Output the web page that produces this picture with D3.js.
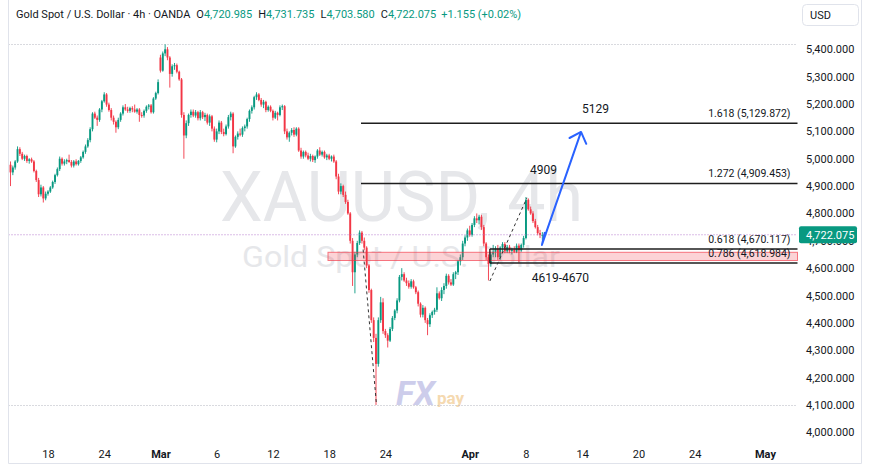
<!DOCTYPE html>
<html><head><meta charset="utf-8">
<script src="https://cdn.jsdelivr.net/npm/d3@7"></script>
<style>html,body{margin:0;padding:0;background:#fff;}svg{display:block;font-family:Roboto,"Noto Sans",sans-serif;}</style>
</head><body><svg id="c" width="870" height="466"></svg>
<script>
// ---- data (4h bars, index 0 = first visible bar) ----
const opens = [4978,4950,4968,4990,5035,5018,5000,5010,4992,4998,4990,4955,4922,4870,4895,4855,4872,4880,4895,4915,4940,4962,5000,4982,4990,4995,4988,4975,4990,4980,4992,5005,5025,5045,5068,5108,5165,5150,5142,5180,5210,5235,5198,5178,5150,5135,5115,5142,5165,5188,5180,5175,5185,5180,5172,5180,5160,5158,5175,5190,5195,5170,5220,5240,5370,5322,5385,5400,5370,5310,5338,5342,5318,5290,5160,5085,5130,5160,5172,5158,5170,5148,5170,5152,5160,5132,5155,5110,5070,5100,5132,5098,5090,5118,5152,5165,5045,5080,5092,5088,5112,5118,5145,5175,5188,5225,5235,5215,5198,5208,5178,5190,5175,5150,5168,5160,5188,5192,5100,5078,5095,5105,5088,5110,5030,5008,5025,5012,5000,5010,4995,5008,5030,5015,5025,5005,5012,5000,5008,4990,4935,4880,4900,4868,4842,4800,4700,4585,4650,4692,4730,4700,4675,4610,4520,4410,4345,4250,4410,4475,4370,4355,4335,4378,4418,4445,4482,4568,4578,4555,4545,4532,4552,4530,4512,4470,4430,4455,4410,4395,4428,4440,4448,4508,4490,4520,4535,4572,4548,4540,4578,4585,4625,4640,4690,4712,4738,4722,4758,4782,4775,4788,4750,4690,4640,4615,4650,4660,4672,4640,4675,4688,4662,4678,4663,4668,4660,4682,4665,4685,4710,4850,4815,4800,4772,4750,4728,4720.985];
const highs = [4990,4975,4995,5045,5042,5025,5015,5015,5002,5004,4995,4960,4930,4905,4900,4880,4885,4900,4920,4945,4968,5008,5005,4998,5000,5015,4995,4995,4998,4995,5010,5030,5052,5075,5115,5170,5172,5158,5185,5215,5243,5240,5205,5185,5158,5140,5150,5170,5195,5200,5190,5190,5192,5198,5185,5185,5170,5180,5195,5200,5200,5225,5245,5290,5380,5392,5418,5408,5375,5345,5350,5348,5322,5295,5170,5140,5165,5180,5180,5178,5175,5178,5175,5168,5165,5162,5160,5118,5110,5140,5138,5110,5125,5160,5172,5170,5085,5100,5110,5118,5125,5150,5180,5195,5230,5243,5240,5222,5215,5212,5195,5195,5180,5175,5172,5195,5198,5196,5110,5100,5112,5115,5115,5115,5040,5030,5030,5022,5018,5015,5012,5035,5042,5030,5030,5018,5018,5012,5015,4995,4945,4910,4905,4880,4850,4805,4710,4660,4700,4738,4736,4712,4680,4615,4525,4420,4360,4420,4495,4490,4378,4362,4385,4425,4450,4490,4575,4600,4585,4565,4555,4560,4558,4535,4518,4475,4465,4460,4418,4435,4445,4455,4530,4515,4530,4545,4580,4578,4560,4585,4590,4630,4650,4700,4720,4745,4755,4765,4790,4800,4795,4795,4758,4695,4650,4660,4685,4680,4685,4680,4695,4695,4685,4685,4675,4680,4690,4690,4690,4718,4860,4855,4825,4808,4780,4758,4740,4731.735];
const lows = [4900,4940,4960,4985,5010,4995,4992,4985,4982,4985,4950,4915,4860,4862,4840,4848,4865,4875,4890,4908,4935,4955,4975,4975,4980,4985,4968,4968,4975,4975,4985,5000,5018,5040,5060,5100,5145,5120,5135,5170,5205,5190,5172,5140,5125,5095,5108,5135,5158,5175,5168,5168,5170,5168,5165,5135,5150,5150,5168,5180,5165,5165,5215,5235,5315,5318,5375,5360,5260,5300,5325,5312,5285,5150,5000,5075,5120,5150,5152,5150,5140,5140,5145,5138,5125,5120,5100,5062,5060,5090,5090,5082,5085,5110,5140,5020,5040,5070,5082,5080,5100,5110,5135,5165,5180,5215,5210,5190,5185,5170,5172,5170,5140,5145,5140,5155,5178,5090,5070,5062,5085,5080,5082,5025,5000,5000,5005,4995,4990,4988,4985,5000,5010,5008,5000,4995,4995,4990,4985,4925,4870,4870,4860,4835,4795,4690,4535,4508,4640,4685,4690,4665,4600,4510,4400,4330,4100,4240,4400,4360,4345,4310,4330,4370,4410,4435,4475,4555,4550,4535,4525,4525,4525,4505,4460,4420,4420,4400,4355,4385,4418,4430,4440,4485,4480,4505,4525,4540,4535,4535,4560,4575,4610,4630,4680,4700,4715,4715,4750,4765,4760,4740,4680,4630,4555,4605,4640,4640,4630,4630,4660,4655,4655,4655,4650,4655,4655,4620,4660,4675,4705,4810,4795,4765,4745,4720,4710,4703.58];
const closes = [4950,4968,4990,5035,5018,5000,5010,4992,4998,4990,4955,4922,4870,4895,4855,4872,4880,4895,4915,4940,4962,5000,4982,4990,4995,4988,4975,4990,4980,4992,5005,5025,5045,5068,5108,5165,5150,5142,5180,5210,5235,5198,5178,5150,5135,5115,5142,5165,5188,5180,5175,5185,5180,5172,5180,5160,5158,5175,5190,5195,5170,5220,5240,5280,5322,5385,5400,5370,5310,5338,5342,5318,5290,5160,5085,5130,5160,5172,5158,5170,5148,5170,5152,5160,5132,5155,5110,5070,5100,5132,5098,5090,5118,5152,5165,5045,5080,5092,5088,5112,5118,5145,5175,5188,5225,5235,5215,5198,5208,5178,5190,5175,5150,5168,5160,5188,5192,5100,5078,5095,5105,5088,5110,5030,5008,5025,5012,5000,5010,4995,5008,5030,5015,5025,5005,5012,5000,5008,4990,4935,4880,4900,4868,4842,4800,4700,4585,4650,4692,4730,4700,4675,4610,4520,4410,4345,4250,4410,4475,4370,4355,4335,4378,4418,4445,4482,4568,4578,4555,4545,4532,4552,4530,4512,4470,4430,4455,4410,4395,4428,4440,4448,4508,4490,4520,4535,4572,4548,4540,4578,4585,4625,4640,4690,4712,4738,4722,4758,4782,4775,4788,4750,4690,4640,4615,4650,4660,4672,4640,4675,4688,4662,4678,4663,4668,4660,4682,4665,4685,4710,4850,4815,4800,4772,4750,4728,4721,4722.075];

const priceTicks = [4000,4100,4200,4300,4400,4500,4600,4700,4800,4900,5000,5100,5200,5300,5400];
const timeTickBars = [16,40,64,88,112,136,160,196,220,244,268,292,322];
const timeTickLabels = ['18','24','Mar','6','12','18','24','Apr','8','14','20','24','May'];

const fibRatios = ['1.618','1.272','0.618','0.786'];
const fibPrices = [5129.872,4909.453,4670.117,4618.984];
const fibStartBars = [149.6,149.6,204.6,204.6];

const zoneLow = 4628, zoneHigh = 4658, zoneStartBar = 135.5;
const noteTexts = ['5129','4909','4619-4670'];
const noteBars = [249.7,227.5,234.7];
const notePrices = [5167,4944,4549];
const dashLines = [[[150.5,4668],[156.2,4100]],[[204.6,4553],[220.4,4857]]];
const arrowPath = [[228.1,4732],[226.8,4685],[243.5,5098]];

const symbol = 'XAUUSD, 4h';
const title = 'Gold Spot / U.S. Dollar';
const headerTitle = 'Gold Spot / U.S. Dollar · 4h · OANDA';
const ohlcLabels = ['O','H','L','C'];
const lastChange = '+1.155 (+0.02%)';

// ---- setup ----
const UP = '#089981', DN = '#f23645', TXT = '#131722';
const svg = d3.select('#c');
const plotL = 8.5, plotR = 797.5;
const step = 2.343, x0 = 10.5;
const x = d3.scaleLinear().domain([0, 227]).range([x0, x0 + 227*step]);
const y = d3.scaleLinear().domain([4000, 5400]).range([432.3, 49.3]);
const n = closes.length;
const idx = d3.range(n);
const last = closes[n-1];
const fmt3 = d3.format(',.3f');

svg.append('rect').attr('width',870).attr('height',466).attr('fill','#fff');
svg.append('defs').append('clipPath').attr('id','clip')
  .append('rect').attr('x',plotL).attr('y',30).attr('width',plotR-plotL).attr('height',415);

// watermark
svg.append('text').attr('x',401.5).attr('y',221).attr('text-anchor','middle')
  .attr('font-size',70).attr('fill','#e6e7ea').attr('textLength',363).attr('lengthAdjust','spacingAndGlyphs').text(symbol);
svg.append('text').attr('x',401).attr('y',267).attr('text-anchor','middle')
  .attr('font-size',29).attr('fill','#e6e7ea').attr('textLength',318).attr('lengthAdjust','spacingAndGlyphs').text(title);

// FXpay logo
const logo = svg.append('g');
logo.append('text').attr('x',396).attr('y',405).attr('font-size',34).attr('font-weight',700)
  .attr('font-style','italic').attr('fill','#cdcdeb').text('FX');
logo.append('text').attr('x',437).attr('y',404).attr('font-size',17).attr('font-weight',700)
  .attr('fill','#f5d9b0').text('pay');

// high/low dotted lines
const hi = d3.max(highs), lo = d3.min(lows);
svg.selectAll('line.hl').data([hi, lo]).join('line')
  .attr('x1',plotL).attr('x2',plotR).attr('y1',d=>Math.round(y(d))+0.5).attr('y2',d=>Math.round(y(d))+0.5)
  .attr('stroke','#b2b5be').attr('stroke-dasharray','1,2');

// candles
const g = svg.append('g').attr('clip-path','url(#clip)');
g.selectAll('line.w').data(idx).join('line')
  .attr('x1',i=>x(i)).attr('x2',i=>x(i)).attr('y1',i=>y(highs[i])).attr('y2',i=>y(lows[i]))
  .attr('stroke',i=>closes[i]>=opens[i]?UP:DN).attr('stroke-width',0.9);
g.selectAll('rect.b').data(idx).join('rect')
  .attr('x',i=>x(i)-0.95).attr('width',1.9)
  .attr('y',i=>y(Math.max(opens[i],closes[i])))
  .attr('height',i=>Math.max(1,Math.abs(y(opens[i])-y(closes[i]))))
  .attr('fill',i=>closes[i]>=opens[i]?UP:DN);

// zone
svg.append('rect').attr('x',x(zoneStartBar)).attr('y',y(zoneHigh))
  .attr('width',plotR-x(zoneStartBar)).attr('height',y(zoneLow)-y(zoneHigh))
  .attr('fill','rgba(242,54,69,0.22)').attr('stroke','rgba(242,54,69,0.65)').attr('stroke-width',1);

// fib lines
fibPrices.forEach((p,k)=>{
  svg.append('line').attr('x1',x(fibStartBars[k])).attr('x2',plotR).attr('y1',y(p)).attr('y2',y(p))
    .attr('stroke','#1e1e1e').attr('stroke-width',1.4);
  svg.append('text').attr('x',plotR-7).attr('y',y(p)-6).attr('text-anchor','end')
    .attr('font-size',10.5).attr('fill',TXT).text(`${fibRatios[k]} (${fmt3(p)})`);
});
svg.append('line').attr('x1',x(fibStartBars[2])).attr('x2',x(fibStartBars[3]))
  .attr('y1',y(fibPrices[2])).attr('y2',y(fibPrices[3])).attr('stroke','#1e1e1e').attr('stroke-width',1.4);

// last price dotted
svg.append('line').attr('x1',plotL).attr('x2',plotR).attr('y1',y(last)).attr('y2',y(last))
  .attr('stroke','#b77ccf').attr('stroke-dasharray','1,2');

// dashed lines
dashLines.forEach(seg=>{
  svg.append('line').attr('x1',x(seg[0][0])).attr('y1',y(seg[0][1])).attr('x2',x(seg[1][0])).attr('y2',y(seg[1][1]))
    .attr('stroke','#333').attr('stroke-width',1).attr('stroke-dasharray','3,3');
});

// arrow
const pts = arrowPath.map(d=>[x(d[0]),y(d[1])]);
svg.append('path').attr('d',d3.line()(pts)).attr('fill','none').attr('stroke','#2962ff').attr('stroke-width',2).attr('stroke-linejoin','round');
const tip = pts[pts.length-1], prev = pts[pts.length-2];
const ang = Math.atan2(prev[1]-tip[1], prev[0]-tip[0]);
const head = [ang-0.75, ang+0.75].map(a=>[tip[0]+13*Math.cos(a), tip[1]+13*Math.sin(a)]);
svg.append('path').attr('d',d3.line()([head[0],tip,head[1]])).attr('fill','none')
  .attr('stroke','#2962ff').attr('stroke-width',2).attr('stroke-linecap','round').attr('stroke-linejoin','round');

// notes
noteTexts.forEach((t,k)=>{
  svg.append('text').attr('x',x(noteBars[k])).attr('y',y(notePrices[k])).attr('text-anchor','middle')
    .attr('font-size',12).attr('fill',TXT).text(t);
});

// price axis
const ya = svg.append('g').attr('transform','translate(806,0)')
  .call(d3.axisRight(y).tickValues(priceTicks).tickFormat(fmt3).tickSize(0).tickPadding(0));
ya.select('.domain').remove();
ya.selectAll('text').attr('font-size',11).attr('fill',TXT).attr('font-family','Roboto, sans-serif');

// last price label
svg.append('rect').attr('x',799).attr('y',y(last)-8.5).attr('width',58).attr('height',17).attr('rx',2).attr('fill',UP);
svg.append('text').attr('x',806).attr('y',y(last)+4).attr('font-size',11).attr('fill','#fff').text(fmt3(last));

// time axis
const xa = svg.append('g').attr('transform','translate(0,450)')
  .call(d3.axisBottom(x).tickValues(timeTickBars).tickFormat((d,i)=>timeTickLabels[i]).tickSize(0).tickPadding(0));
xa.select('.domain').remove();
xa.selectAll('text').attr('font-size',11).attr('fill',TXT).attr('font-family','Roboto, sans-serif')
  .attr('font-weight',(d,i)=>isNaN(+timeTickLabels[i])?700:400);

// header
const hd = svg.append('text').attr('x',16).attr('y',18).attr('font-size',11).attr('fill',TXT);
hd.append('tspan').text(headerTitle);
const ohlcVals = [opens[n-1],highs[n-1],lows[n-1],closes[n-1]];
ohlcLabels.forEach((l,k)=>{
  hd.append('tspan').attr('dx',k===0?6:6).attr('fill',TXT).text(l);
  hd.append('tspan').attr('fill',UP).text(fmt3(ohlcVals[k]));
});
hd.append('tspan').attr('dx',5).attr('fill',UP).text(lastChange);

// USD box
svg.append('rect').attr('x',802.5).attr('y',4.5).attr('width',56).attr('height',21).attr('rx',4)
  .attr('fill','#fff').attr('stroke','#e0e3eb');
svg.append('text').attr('x',810).attr('y',19).attr('font-size',11).attr('fill',TXT).text('USD');

// frame
svg.append('path').attr('d','M8.5,0V463.5H861.5V0').attr('fill','none').attr('stroke','#e0e3eb');
</script></body></html>
